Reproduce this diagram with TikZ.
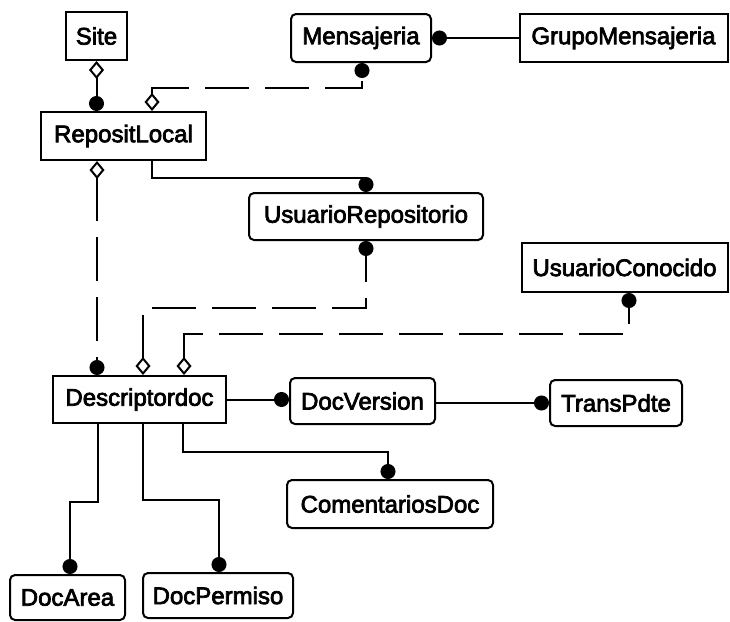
\documentclass[tikz,border=0pt]{standalone}
\usepackage{fontspec}
\setmainfont{Liberation Sans}
\newfontfamily\labelfont[FakeBold=3]{Liberation Sans}
\usetikzlibrary{arrows.meta}
\begin{document}
\begin{tikzpicture}[x=1pt,y=-1pt,
  every node/.style={font=\labelfont\fontsize{24}{26}\selectfont, inner sep=0pt},
  ent/.style={draw, line width=2pt, fill=white, minimum height=48pt},
  rent/.style={ent, rounded corners=5pt},
  link/.style={line width=2pt},
  dlink/.style={link, dash pattern=on 44pt off 16pt},
  fcirc/.tip={Circle[length=15pt,width=15pt]},
  odiam/.tip={Diamond[open,length=18pt,width=15pt,line width=2pt]}
]
\useasboundingbox[fill=white] (0,0) rectangle (730,621);

% entities
\node[ent,  minimum width=61pt]                    (site)  at (96.5,36)   {Site};
\node[rent, minimum width=140pt]                   (mens)  at (361,38)    {Mensajeria};
\node[ent,  minimum width=208pt]                   (grupo) at (623.5,38)  {GrupoMensajeria};
\node[ent,  minimum width=165pt]                   (rl)    at (123.5,136) {RepositLocal};
\node[rent, minimum width=234pt, minimum height=47pt] (urep) at (366,216.5) {UsuarioRepositorio};
\node[ent,  minimum width=206pt, minimum height=49pt] (ucon) at (624.5,267.5) {UsuarioConocido};
\node[ent,  minimum width=173pt, minimum height=47pt] (desc) at (139.5,399.5) {Descriptordoc};
\node[rent, minimum width=145pt, minimum height=46pt] (dver) at (362.5,401) {DocVersion};
\node[rent, minimum width=132pt, minimum height=46pt] (trans) at (616,403) {TransPdte};
\node[rent, minimum width=206pt]                   (coment) at (390,504) {ComentariosDoc};
\node[rent, minimum width=115pt, minimum height=45pt] (darea) at (67.5,597.5) {DocArea};
\node[rent, minimum width=150pt, minimum height=45pt] (dperm) at (218,595.5) {DocPermiso};

% x positions of the vertical legs
\coordinate (xa) at (97,0);
\coordinate (xb) at (152,0);
\coordinate (xc) at (362,0);
\coordinate (xe) at (143,0);
\coordinate (xf) at (184,0);
\coordinate (xg) at (629,0);
\coordinate (xh) at (388,0);
\coordinate (xi) at (70,0);
\coordinate (xj) at (219,0);
% bend points
\coordinate (m1) at (362,88);
\coordinate (m2) at (152,88);
\coordinate (r1) at (152,178);
\coordinate (r2) at (366,178);
\coordinate (u1) at (366,308);
\coordinate (u2) at (143,308);
\coordinate (c1) at (629,334);
\coordinate (c2) at (184,334);
\coordinate (d1) at (183,452);
\coordinate (d2) at (388,452);
\coordinate (a1) at (98,502);
\coordinate (a2) at (70,502);
\coordinate (p1) at (143,500);
\coordinate (p2) at (219,500);

% connectors
\draw[link, {odiam}-{fcirc}] (site.south) -- (rl.north -| site.south);
\draw[dlink, {odiam}-{fcirc}] (rl.north -| xb) -- (m2) -- (m1) -- (mens.south -| xc);
\draw[link, {fcirc}-] (mens.east) -- (grupo.west);
\draw[link, -{fcirc}] (rl.south -| xb) -- (r1) -- (r2) -- (urep.north);
\draw[dlink, {odiam}-{fcirc}] (rl.south -| xa) -- (desc.north -| xa);
\draw[dlink, {odiam}-{fcirc}] (desc.north -| xe) -- (u2) -- (u1) -- (urep.south);
\draw[dlink, {odiam}-{fcirc}] (desc.north -| xf) -- (c2) -- (c1) -- (ucon.south -| xg);
\draw[link, -{fcirc}] (desc.east) -- (desc.east -| dver.west);
\draw[link, -{fcirc}] (dver.east |- trans.west) -- (trans.west);
\draw[link, -{fcirc}] (desc.south -| d1) -- (d1) -- (d2) -- (coment.north -| xh);
\draw[link, -{fcirc}] (desc.south -| a1) -- (a1) -- (a2) -- (darea.north -| xi);
\draw[link, -{fcirc}] (desc.south -| p1) -- (p1) -- (p2) -- (dperm.north -| xj);
\end{tikzpicture}
\end{document}
